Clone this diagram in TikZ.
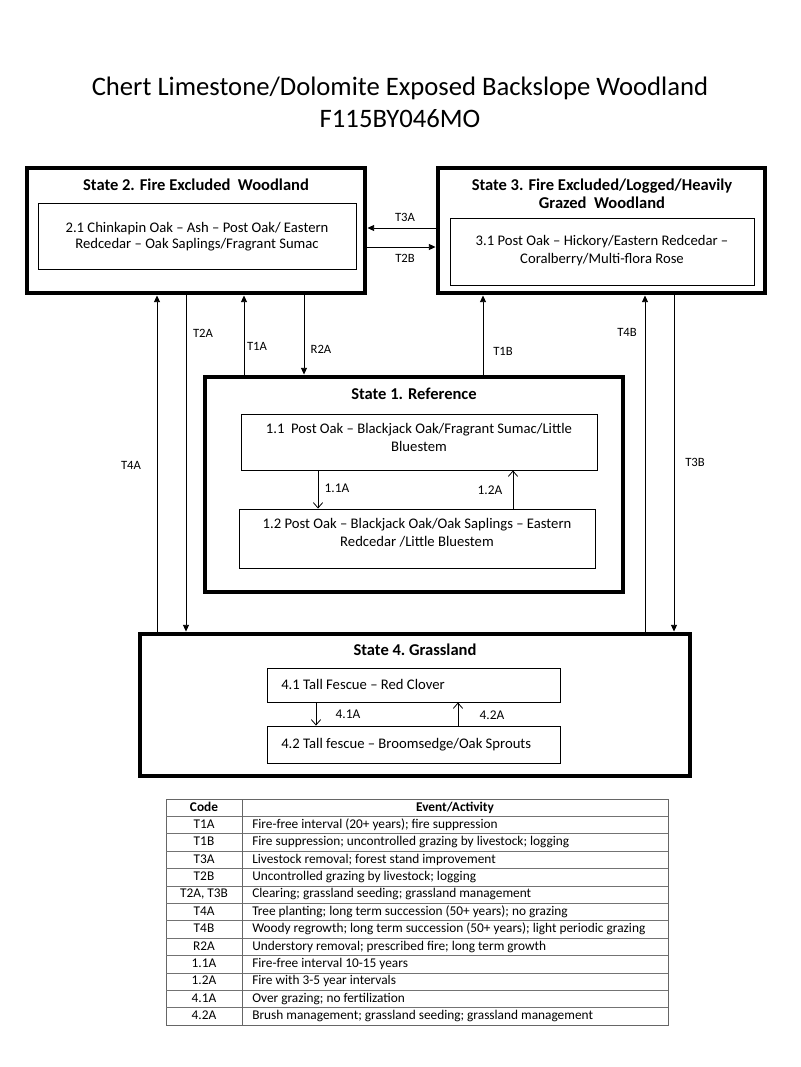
\documentclass[tikz,border=0pt]{standalone}
\usepackage{fontspec}
\setmainfont{Carlito}
\usetikzlibrary{arrows.meta,fit}
\begin{document}
\begin{tikzpicture}[x=0.75pt,y=-0.75pt,
 statebox/.style={draw,line width=2.5pt,inner sep=0pt},
 combox/.style={draw,line width=0.7pt,inner sep=0pt},
 ttl/.style={font=\fontsize{12.4}{13.5}\selectfont\bfseries,align=center,inner sep=0pt},
 txt/.style={font=\fontsize{11}{13.5}\selectfont,align=center,inner sep=0pt},
 lbl/.style={font=\fontsize{9.5}{10}\selectfont,inner sep=0pt},
 clbl/.style={font=\fontsize{10}{10}\selectfont,inner sep=0pt},
 arr/.style={line width=0.6pt,-{Triangle[length=5pt,width=4.5pt]},shorten >=0.6pt},
 carr/.style={line width=0.6pt,-{Straight Barb[length=4pt,width=7pt]}},
 tcell/.style={font=\fontsize{10}{10}\selectfont,inner sep=0pt,text height=7pt,text depth=2pt},
]
\useasboundingbox (0,0) rectangle (800,1067);

\node[font=\fontsize{20}{24}\selectfont,align=center] (title) at (400,102) {Chert Limestone/Dolomite Exposed Backslope Woodland\\F115BY046MO};

% State 2
\node[statebox,fit={(27,168)(365,293)}] (s2) {};
\node[ttl] (s2t) at (196,185) {State 2. Fire Excluded\ \ Woodland};
\node[combox,fit={(38,203)(356,269)}] (c21) {};
\node[txt,font=\fontsize{11}{12}\selectfont] (c21t) at (197,237) {2.1 Chinkapin Oak -- Ash -- Post Oak/ Eastern\\Redcedar -- Oak Saplings/Fragrant Sumac};

% State 3
\node[statebox,fit={(438,168)(765,293)}] (s3) {};
\node[ttl] (s3t) at (602,194) {State 3. Fire Excluded/Logged/Heavily\\Grazed\ \ Woodland};
\node[combox,fit={(450,218)(754,285)}] (c31) {};
\node[txt] (c31t) at (602,251) {3.1 Post Oak -- Hickory/Eastern Redcedar --\\Coralberry/Multi-flora Rose};

% State 1
\node[statebox,fit={(205,377)(623,592)}] (s1) {};
\node[ttl] (s1t) at (414,394) {State 1. Reference};
\node[combox,fit={(241,414)(597,470)}] (c11) {};
\node[txt] (c11t) at (419,437) {1.1\ \ Post Oak -- Blackjack Oak/Fragrant Sumac/Little\\Bluestem};
\node[combox,fit={(239,509)(595,568)}] (c12) {};
\node[txt] (c12t) at (417,533) {1.2 Post Oak -- Blackjack Oak/Oak Saplings -- Eastern\\Redcedar /Little Bluestem};

% State 4
\node[statebox,fit={(140,634)(690,776)}] (s4) {};
\node[ttl] (s4t) at (415,650) {State 4.\ Grassland};
\node[combox,fit={(267,668)(560,702)}] (c41) {};
\node[txt,anchor=west] (c41t) at (281,684) {4.1 Tall Fescue -- Red Clover};
\node[combox,fit={(267,726)(560,763)}] (c42) {};
\node[txt,anchor=west] (c42t) at (281,745) {4.2 Tall fescue -- Broomsedge/Oak Sprouts};

% helper coordinates
\coordinate (h228) at (0,228);
\coordinate (h247) at (0,247);
\coordinate (x157) at (157,0);
\coordinate (x186) at (186,0);
\coordinate (x244) at (244,0);
\coordinate (x304) at (304,0);
\coordinate (x483) at (483,0);
\coordinate (x645) at (645,0);
\coordinate (x674) at (674,0);
\coordinate (x322) at (318,0);
\coordinate (x513) at (513,0);
\coordinate (x316) at (316,0);
\coordinate (x458) at (458,0);

% transitions between states
\draw[arr] (s3.west |- h228) -- (s2.east |- h228);
\node[lbl] (lT3A) at (405,217) {T3A};
\draw[arr] (s2.east |- h247) -- (s3.west |- h247);
\node[lbl] (lT2B) at (405,258) {T2B};

\draw[arr] (s4.north -| x157) -- (s2.south -| x157);
\node[lbl] (lT4A) at (131,465) {T4A};
\draw[arr] (s2.south -| x186) -- (s4.north -| x186);
\node[lbl] (lT2A) at (203,333) {T2A};
\draw[arr] (s1.north -| x244) -- (s2.south -| x244);
\node[lbl] (lT1A) at (257,346) {T1A};
\draw[arr] (s2.south -| x304) -- (s1.north -| x304);
\node[lbl] (lR2A) at (321,349) {R2A};
\draw[arr] (s1.north -| x483) -- (s3.south -| x483);
\node[lbl] (lT1B) at (503,351) {T1B};
\draw[arr] (s4.north -| x645) -- (s3.south -| x645);
\node[lbl] (lT4B) at (627,332) {T4B};
\draw[arr] (s3.south -| x674) -- (s4.north -| x674);
\node[lbl] (lT3B) at (695,462) {T3B};

% community pathways
\draw[carr] (c11.south -| x322) -- (c12.north -| x322);
\node[clbl] (l11A) at (337,488) {1.1A};
\draw[carr] (c12.north -| x513) -- (c11.south -| x513);
\node[clbl] (l12A) at (490,490) {1.2A};
\draw[carr] (c41.south -| x316) -- (c42.north -| x316);
\node[clbl] (l41A) at (348,714) {4.1A};
\draw[carr] (c42.north -| x458) -- (c41.south -| x458);
\node[clbl] (l42A) at (492,715) {4.2A};

% table
\draw[black!60,line width=0.6pt] (166,799) rectangle (668,1025);
\foreach \i in {1,...,12} {
  \draw[black!55,line width=0.5pt] (166,{799+\i*17.385}) -- (668,{799+\i*17.385});
}
\draw[black!60,line width=0.6pt] (242,799) -- (242,1025);
\node[tcell,font=\fontsize{10}{10}\selectfont\bfseries] (hcode) at (204,{799+0.5*17.385}) {Code};
\node[tcell,font=\fontsize{10}{10}\selectfont\bfseries] (hev) at (455,{799+0.5*17.385}) {Event/Activity};
\foreach \c/\e [count=\i] in {
 T1A/{Fire-free interval (20+ years); fire suppression},
 T1B/{Fire suppression; uncontrolled grazing by livestock; logging},
 T3A/{Livestock removal; forest stand improvement},
 T2B/{Uncontrolled grazing by livestock; logging},
 {T2A, T3B}/{Clearing; grassland seeding; grassland management},
 T4A/{Tree planting; long term succession (50+ years); no grazing},
 T4B/{Woody regrowth; long term succession (50+ years); light periodic grazing},
 R2A/{Understory removal; prescribed fire; long term growth},
 1.1A/{Fire-free interval 10-15 years},
 1.2A/{Fire with 3-5 year intervals},
 4.1A/{Over grazing; no fertilization},
 4.2A/{Brush management; grassland seeding; grassland management}} {
  \node[tcell] (code\i) at (204,{799+(\i+0.5)*17.385}) {\c};
  \node[tcell,anchor=west] (ev\i) at (252,{799+(\i+0.5)*17.385}) {\e};
}
\end{tikzpicture}
\end{document}
